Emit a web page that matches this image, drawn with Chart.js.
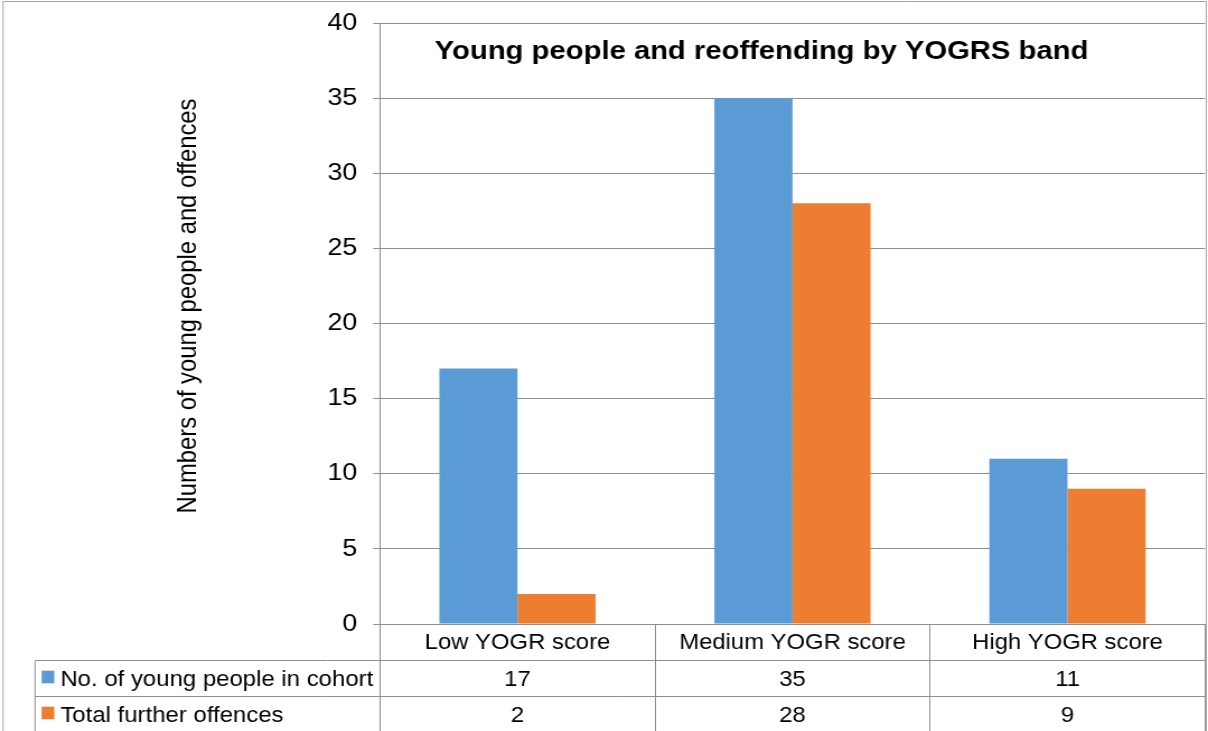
<!DOCTYPE html>
<html>
<head>
<meta charset="utf-8">
<script src="https://cdn.jsdelivr.net/npm/chart.js@4.4.1/dist/chart.umd.min.js"></script>
<style>
  html, body { margin: 0; padding: 0; background: #fff; overflow: hidden; }
  canvas { display: block; }
</style>
</head>
<body>
<!-- drawn on a 1079px-wide bitmap and shown 1208px wide (slightly widened look) -->
<canvas id="chart" width="1079" height="731" style="width:1208px;height:731px"></canvas>
<script>
// ---- data ----
const categories = ['Low YOGR score', 'Medium YOGR score', 'High YOGR score'];
const seriesNames = ['No. of young people in cohort', 'Total further offences'];
const cohort = [17, 35, 11];
const furtherOffences = [2, 28, 9];
const yTicks = [0, 5, 10, 15, 20, 25, 30, 35, 40];
const chartTitle = 'Young people and reoffending by YOGRS band';
const yAxisTitle = 'Numbers of young people and offences';

// ---- styling ----
const FONT = "'Liberation Sans', Arial, sans-serif";
const LINE = '#8f8f8f';
const seriesColors = ['#5B9BD5', '#ED7D31'];
const seriesValues = [cohort, furtherOffences];

// Title, axis title, outer frame and the data table under the axis
const tablePlugin = {
  id: 'tablePlugin',
  afterDraw(chart) {
    const { ctx, chartArea, scales } = chart;
    const x = scales.x;
    const W = chart.width, H = chart.height;
    ctx.save();

    // outer frame
    ctx.strokeStyle = '#a6a6a6';
    ctx.lineWidth = 1;
    ctx.beginPath();
    ctx.moveTo(2.7, H); ctx.lineTo(2.7, 1.5); ctx.lineTo(W - 1.5, 1.5); ctx.lineTo(W - 1.5, H);
    ctx.stroke();

    // table rows
    const tableLeft = 31.3;
    const rowLines = [660.5, 696.5];
    ctx.strokeStyle = LINE;
    ctx.beginPath();
    rowLines.forEach(y => { ctx.moveTo(tableLeft, y); ctx.lineTo(chartArea.right, y); });
    ctx.moveTo(tableLeft, rowLines[0]); ctx.lineTo(tableLeft, H);
    ctx.stroke();

    // legend keys and values
    const baselines = [685.5, 721.5];
    ctx.font = `21.4px ${FONT}`;
    ctx.textBaseline = 'alphabetic';
    seriesNames.forEach((name, s) => {
      const b = baselines[s];
      ctx.fillStyle = seriesColors[s];
      ctx.fillRect(37.2, b - 14.8, 11.3, 12.6);
      ctx.fillStyle = '#000';
      ctx.textAlign = 'left';
      ctx.fillText(name, 53.9, b);
      ctx.textAlign = 'center';
      seriesValues[s].forEach((v, i) => {
        ctx.fillText(String(v), x.getPixelForValue(i), b);
      });
    });

    // chart title
    ctx.font = `bold 26.1px ${FONT}`;
    ctx.textAlign = 'center';
    ctx.fillStyle = '#000';
    ctx.fillText(chartTitle, 680.2, 59);

    // y-axis title
    ctx.font = `23.8px ${FONT}`;
    ctx.translate(168.5, 306);
    ctx.rotate(-Math.PI / 2);
    ctx.textBaseline = 'middle';
    ctx.fillText(yAxisTitle, 0, 0);

    ctx.restore();
  }
};

new Chart(document.getElementById('chart'), {
  type: 'bar',
  data: {
    labels: categories,
    datasets: seriesNames.map((name, s) => ({
      label: name,
      data: seriesValues[s],
      backgroundColor: seriesColors[s],
      borderWidth: 0,
      categoryPercentage: 0.568,
      barPercentage: 1
    }))
  },
  options: {
    responsive: false,
    animation: false,
    devicePixelRatio: 1,
    layout: { padding: { top: 23, right: 2.7, left: 0, bottom: 0 } },
    plugins: {
      legend: { display: false },
      title: { display: false },
      tooltip: { enabled: false }
    },
    scales: {
      x: {
        offset: true,
        grid: {
          offset: true,
          drawOnChartArea: false,
          drawTicks: true,
          tickLength: 107,
          color: LINE
        },
        border: { display: true, color: LINE },
        ticks: {
          color: '#000',
          font: { family: FONT, size: 21.3 },
          padding: -100.8,
          maxRotation: 0,
          autoSkip: false
        },
        afterFit(scale) {
          scale.height = 107;
          scale.paddingLeft = 0;
          scale.paddingRight = 0;
        }
      },
      y: {
        min: yTicks[0],
        max: yTicks[yTicks.length - 1],
        grid: { color: LINE, tickLength: 6, drawTicks: true },
        border: { display: true, color: LINE },
        ticks: {
          stepSize: yTicks[1] - yTicks[0],
          color: '#000',
          font: { family: FONT, size: 24 },
          padding: 14.3
        },
        afterFit(scale) {
          scale.width = 339.4;
          scale.paddingTop = 0;
          scale.paddingBottom = 0;
        }
      }
    }
  },
  plugins: [tablePlugin]
});
</script>
</body>
</html>
